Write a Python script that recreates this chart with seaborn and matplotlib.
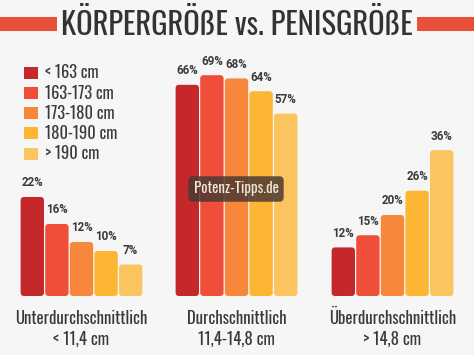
import matplotlib
matplotlib.use("Agg")
import matplotlib.pyplot as plt
from matplotlib.patches import FancyBboxPatch, Rectangle, Patch
import seaborn as sns
import pandas as pd

# ---- data ----
body_heights = ["< 163 cm", "163-173 cm", "173-180 cm", "180-190 cm", "> 190 cm"]
groups = ["Unterdurchschnittlich\n< 11,4 cm", "Durchschnittlich\n11,4-14,8 cm", "Überdurchschnittlich\n> 14,8 cm"]
under_avg = [22, 16, 12, 10, 7]
avg = [66, 69, 68, 64, 57]
above_avg = [12, 15, 20, 26, 36]
colors = ["#c4282b", "#ef4e39", "#f7873a", "#fdb634", "#fbc45e"]
title = "KÖRPERGRÖßE vs. PENISGRÖßE"
watermark = "Potenz-Tipps.de"

rows = []
for g, vals in zip(groups, [under_avg, avg, above_avg]):
    for h, v in zip(body_heights, vals):
        rows.append({"group": g, "height": h, "value": v})
df = pd.DataFrame(rows)

sns.set_theme(style="white")
NARROW = ["Oswald", "DejaVu Sans"]
plt.rcParams["font.family"] = ["Roboto", "DejaVu Sans"]

W, H = 474, 355
BG = "#f6f6f6"
TXT = "#3a3a3a"
fig = plt.figure(figsize=(W / 100, H / 100), dpi=100, facecolor=BG)

def fx(px):
    return px / W

def fy(py):
    return 1 - py / H

# panel geometry (pixels)
lefts = [20, 175, 331]
pwidth = 123
bottom_px, top_px = 296, 60
px_per_unit = [4.5, 3.2, 4.05]
barw = 0.95

for i, g in enumerate(groups):
    ax = fig.add_axes([fx(lefts[i]), fy(bottom_px), pwidth / W, (bottom_px - top_px) / H])
    ax.set_facecolor("none")
    sub = df[df["group"] == g]
    sns.barplot(data=sub, x="height", y="value", hue="height", order=body_heights,
                hue_order=body_heights, palette=colors, width=barw, dodge=False,
                legend=False, ax=ax, saturation=1)
    ax.set_xlim(-0.5, len(body_heights) - 0.5)
    ymax = (bottom_px - top_px) / px_per_unit[i]
    ax.set_ylim(0, ymax)
    # rounded corners
    xdpp = len(body_heights) / pwidth
    ydpp = 1 / px_per_unit[i]
    r_px = 3.5
    for p in list(ax.patches):
        x, y = p.get_x(), p.get_y()
        w, h = p.get_width(), p.get_height()
        fc = p.get_facecolor()
        p.remove()
        fb = FancyBboxPatch((x, y), w, h, boxstyle=f"round,pad=0,rounding_size={r_px * xdpp}",
                            mutation_aspect=ydpp / xdpp, facecolor=fc, edgecolor="none")
        ax.add_patch(fb)
    for j, v in enumerate(sub["value"]):
        ax.annotate(f"{v}%", (j, v), xytext=(0, 5.5), textcoords="offset points",
                    ha="center", va="bottom", fontsize=8.4, fontweight="bold",
                    color=TXT, annotation_clip=False)
    ax.set_xlabel("")
    ax.set_ylabel("")
    ax.set_xticks([])
    ax.set_yticks([])
    for s in ax.spines.values():
        s.set_visible(False)
    line1, line2 = g.split("\n")
    cx = fx(lefts[i] + pwidth / 2)
    fig.text(cx, fy(318), line1, ha="center", va="center", fontsize=12,
             family=NARROW, color=TXT)
    fig.text(cx, fy(339), line2, ha="center", va="center", fontsize=12,
             family=NARROW, color=TXT)

# legend
handles = [Patch(facecolor=c, edgecolor="none") for c in colors]
fig.legend(handles, body_heights, loc="upper left",
           bbox_to_anchor=(fx(21), fy(61)), frameon=False, borderaxespad=0,
           prop={"family": NARROW, "size": 11.8}, labelcolor=TXT,
           handlelength=0.86, handleheight=0.75, handletextpad=0.4,
           labelspacing=0.2, borderpad=0.2)

# title with side bars
fig.patches.append(Rectangle((0, fy(31)), fx(57), (31 - 17) / H, transform=fig.transFigure,
                             facecolor="#e9503a", edgecolor="none"))
fig.patches.append(Rectangle((fx(417), fy(31)), fx(57), (31 - 17) / H, transform=fig.transFigure,
                             facecolor="#e9503a", edgecolor="none"))
fig.text(0.5, fy(25), title, ha="center", va="center", fontsize=22,
         family=NARROW, color="#333333")

# watermark
fig.text(fx(236), fy(189), watermark, ha="center", va="center", fontsize=10.8,
         family=NARROW, color="#f2e4d6",
         bbox=dict(boxstyle="round,pad=0.35,rounding_size=0.3", facecolor="#4b3a30",
                   edgecolor="none", alpha=0.85))

fig.savefig("out.png", dpi=100, facecolor=BG)
